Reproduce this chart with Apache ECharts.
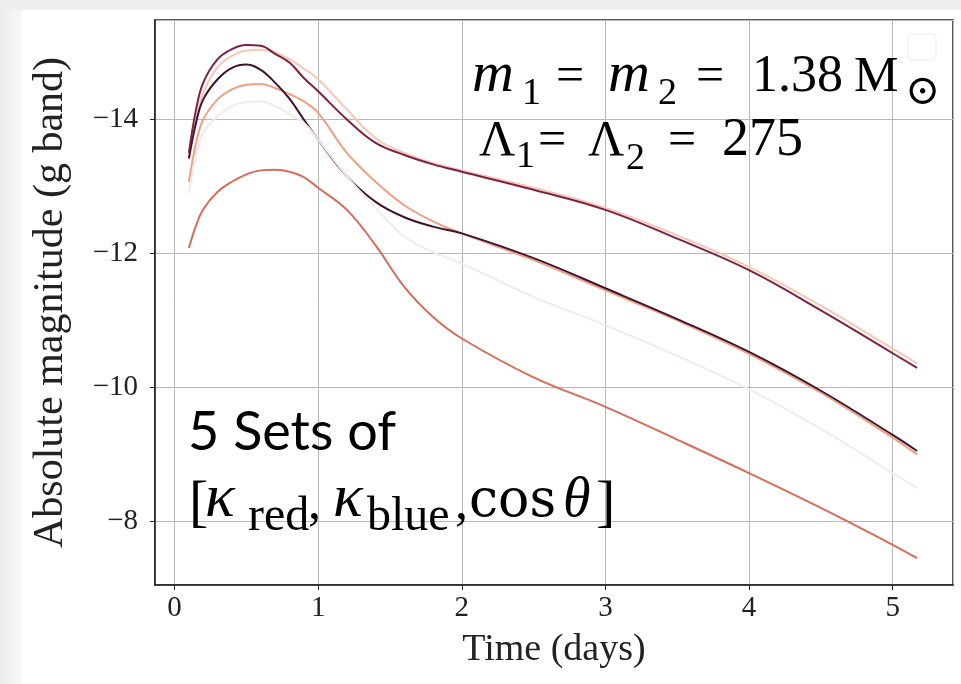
<!DOCTYPE html>
<html>
<head>
<meta charset="utf-8">
<script src="https://cdn.jsdelivr.net/npm/echarts@6/dist/echarts.min.js"></script>
<style>
  html, body { margin: 0; padding: 0; background: #fff; }
  #chart { width: 961px; height: 684px; }
</style>
</head>
<body>
<div id="chart"></div>
<script>
// time grid (days) shared by every light curve
var times = [0.1, 0.15, 0.2, 0.3, 0.4, 0.5, 0.6, 0.7, 0.8, 0.9, 1.0, 1.2, 1.4, 1.6, 1.8, 2.0, 2.5, 3.0, 3.5, 4.0, 4.5, 5.0, 5.17];

// absolute magnitudes (g band)
var magLightPink = [-13.40, -14.00, -14.40, -14.78, -14.95, -15.03, -15.04, -15.00, -14.90, -14.76, -14.60, -14.15, -13.72, -13.50, -13.35, -13.24, -12.98, -12.68, -12.27, -11.80, -11.22, -10.58, -10.36];
var magSalmon    = [-13.07, -13.65, -14.00, -14.30, -14.45, -14.52, -14.53, -14.47, -14.38, -14.27, -14.10, -13.50, -13.07, -12.72, -12.48, -12.30, -11.90, -11.45, -11.00, -10.50, -9.92, -9.25, -9.00];
var magCoral     = [-12.08, -12.42, -12.66, -12.92, -13.07, -13.18, -13.24, -13.25, -13.22, -13.14, -12.98, -12.65, -12.12, -11.50, -11.05, -10.73, -10.15, -9.71, -9.22, -8.72, -8.20, -7.65, -7.45];
var magDark      = [-13.42, -13.95, -14.30, -14.60, -14.77, -14.82, -14.74, -14.55, -14.31, -14.00, -13.70, -13.15, -12.77, -12.54, -12.40, -12.30, -11.93, -11.48, -11.02, -10.53, -9.95, -9.29, -9.05];
var magMaroon    = [-13.50, -14.15, -14.55, -14.90, -15.05, -15.11, -15.10, -14.98, -14.85, -14.62, -14.42, -14.00, -13.65, -13.47, -13.33, -13.22, -12.95, -12.65, -12.22, -11.75, -11.15, -10.51, -10.29];
var magPale      = [-12.90, -13.45, -13.80, -14.05, -14.20, -14.26, -14.27, -14.20, -14.08, -13.95, -13.70, -13.15, -12.68, -12.25, -12.02, -11.85, -11.35, -10.93, -10.47, -9.97, -9.38, -8.72, -8.50];

var yTickValues = [-14, -12, -10, -8];

var curves = [
    {name: 'set 1', mags: magLightPink, color: '#f6c9b6'},
    {name: 'set 2', mags: magSalmon, color: '#efa082'},
    {name: 'set 3', mags: magCoral, color: '#d76c5b'},
    {name: 'set 4', mags: magDark, color: '#40132f'},
    {name: 'set 5', mags: magMaroon, color: '#7e2143'},
    {name: 'set 6', mags: magPale, color: '#f2eaea'}
];

function pairs(mags) {
    return times.map(function (t, i) { return [t, mags[i]]; });
}

var mathFont = '"Liberation Serif", "DejaVu Serif", serif';
var wideFont = '"DejaVu Serif", serif';
var axisFont = '"Liberation Serif", "DejaVu Serif", serif';

// annotation pieces: [text, left x, baseline y, size, italic, font]
var notes = [
    ['m', 472, 93, 58, true], ['1', 522, 105, 38, false], ['=', 556, 93, 50, false],
    ['m', 608, 93, 58, true], ['2', 658, 105, 38, false], ['=', 696, 93, 50, false],
    ['1.38', 752, 93, 52, false], ['M', 854, 93, 50, false], ['\u2299', 905, 106, 42, false, wideFont],
    ['\u039b', 479, 157, 50, false], ['1', 516, 168, 38, false], ['=', 538, 157, 50, false],
    ['\u039b', 588, 157, 50, false], ['2', 626, 170, 38, false], ['=', 668, 157, 50, false],
    ['275', 722, 157, 54, false],
    ['[', 189, 522, 58, false], ['\u03ba', 205, 518, 62, true], ['red', 248, 532, 48, false],
    [',', 308, 520, 52, false], ['\u03ba', 333, 518, 62, true], ['blue', 367, 532, 48, false],
    [',', 455, 520, 52, false], ['cos', 469, 518, 52, false, wideFont], ['\u03b8', 563, 518, 56, true],
    [']', 596, 522, 58, false]
];

var graphics = [
    {type: 'rect', shape: {x: 0, y: 0, width: 961, height: 10}, style: {fill: '#efefef'}, silent: true},
    {type: 'rect', shape: {x: 0, y: 10, width: 22, height: 674},
        style: {fill: new echarts.graphic.LinearGradient(0, 0, 1, 0, [
            {offset: 0, color: '#ececec'}, {offset: 1, color: '#f8f8f8'}])}, silent: true},
    // empty legend frame in the corner
    {type: 'rect', shape: {x: 908, y: 34, width: 28, height: 26, r: 4},
        style: {fill: 'none', stroke: '#ececec', lineWidth: 1}, silent: true},
    {type: 'text', left: 188, top: 406, z: 100, style: {text: '5 Sets of', fontSize: 54,
        fontFamily: 'Lato, "Noto Sans", sans-serif', fill: '#000'}}
];
notes.forEach(function (n) {
    graphics.push({
        type: 'text', x: n[1], y: n[2] - 0.8 * n[3], z: 100,
        style: {text: n[0], fontSize: n[3], fontStyle: n[4] ? 'italic' : 'normal',
            fontFamily: n[5] || mathFont, fill: '#000'}
    });
});

var myChart = echarts.init(document.getElementById('chart'));

var option = {
    backgroundColor: '#ffffff',
    animation: false,
    grid: {left: 155, right: 8, top: 20, bottom: 99, show: true, borderColor: '#222', borderWidth: 1.5},
    xAxis: {
        type: 'value',
        min: -0.136,
        max: 5.42,
        splitNumber: 5,
        name: 'Time (days)',
        nameLocation: 'middle',
        nameGap: 46,
        nameTextStyle: {fontFamily: axisFont, fontSize: 38, color: '#222'},
        axisLine: {show: true, onZero: false, lineStyle: {color: '#222', width: 1.5}},
        axisTick: {show: true, length: 5, lineStyle: {color: '#222'}},
        axisLabel: {showMinLabel: false, showMaxLabel: false, margin: 9,
            fontFamily: axisFont, fontSize: 29, color: '#222'},
        splitLine: {show: true, lineStyle: {color: '#b8b8b8', width: 1}}
    },
    yAxis: {
        type: 'value',
        inverse: true,
        min: -15.485,
        max: -7.05,
        splitNumber: 4,
        name: 'Absolute magnitude (g band)',
        nameLocation: 'middle',
        nameRotate: 90,
        nameGap: 83,
        nameTextStyle: {fontFamily: axisFont, fontSize: 42, color: '#222'},
        axisLine: {show: true, onZero: false, lineStyle: {color: '#222', width: 1.5}},
        axisTick: {show: true, length: 5, lineStyle: {color: '#222'}},
        axisLabel: {showMinLabel: false, showMaxLabel: false, margin: 17,
            fontFamily: axisFont, fontSize: 29, color: '#222',
            formatter: function (v) {
                return yTickValues.indexOf(v) >= 0 ? '\u2212' + Math.abs(v) : '';
            }},
        splitLine: {show: true, lineStyle: {color: '#b8b8b8', width: 1}}
    },
    graphic: graphics,
    series: curves.map(function (c) {
        return {
            name: c.name,
            type: 'line',
            data: pairs(c.mags),
            smooth: 0.4,
            showSymbol: false,
            lineStyle: {color: c.color, width: 2},
            itemStyle: {color: c.color}
        };
    })
};

myChart.setOption(option);
</script>
</body>
</html>
